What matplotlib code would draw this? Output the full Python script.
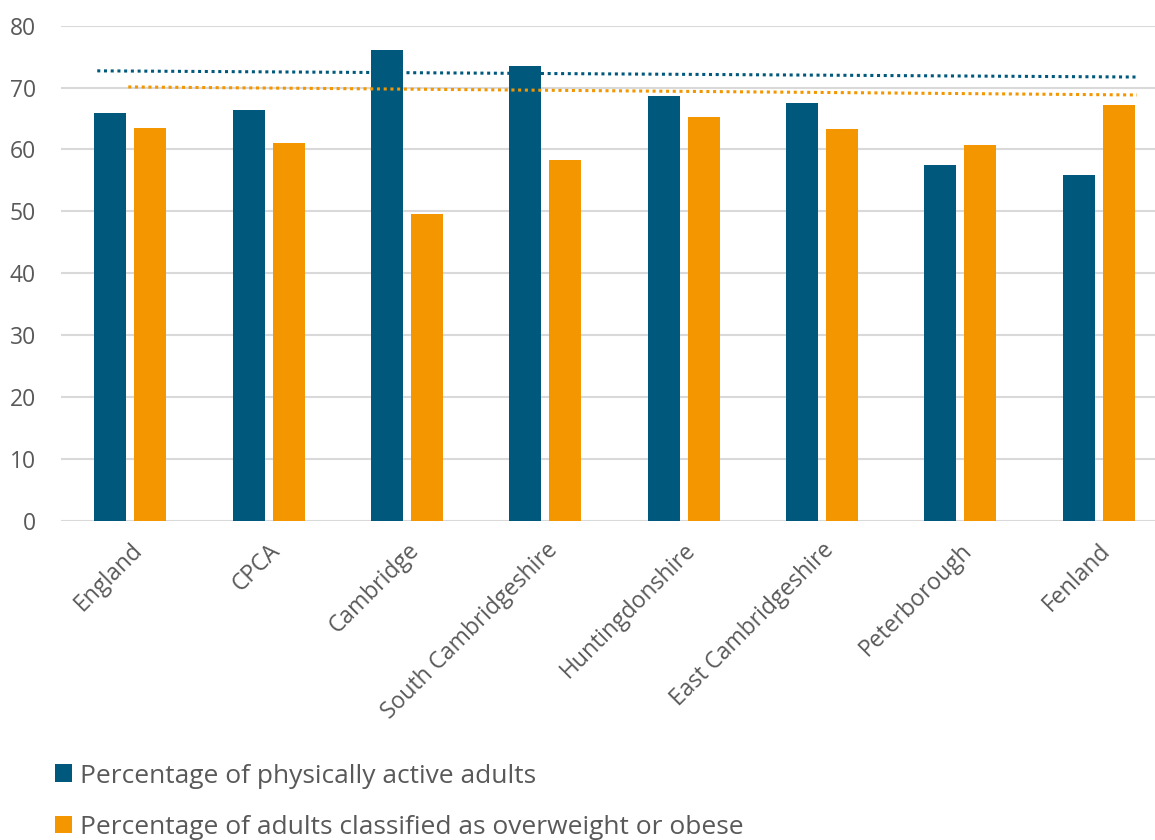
import matplotlib
matplotlib.use("Agg")
import matplotlib.pyplot as plt
from matplotlib.patches import Patch
import numpy as np

plt.rcParams['font.family'] = ['Open Sans', 'DejaVu Sans']

# ---- data ----
areas = ["England", "CPCA", "Cambridge", "South Cambridgeshire",
         "Huntingdonshire", "East Cambridgeshire", "Peterborough", "Fenland"]
active_pct = [65.9, 66.4, 76.1, 73.5, 68.6, 67.5, 57.5, 55.9]
overweight_pct = [63.5, 61.0, 49.6, 58.3, 65.2, 63.3, 60.7, 67.2]
# trend lines (start value, end value)
active_trend = [72.7, 71.7]
overweight_trend = [70.1, 68.8]
series_labels = ["Percentage of physically active adults",
                 "Percentage of adults classified as overweight or obese"]
yticks = [0, 10, 20, 30, 40, 50, 60, 70, 80]

# ---- style ----
BLUE = "#00587c"
ORANGE = "#f39600"
GRID = "#d9d9d9"
TEXT = "#595959"

W, H = 1155, 840
fig = plt.figure(figsize=(W / 100, H / 100), dpi=100)
ax = fig.add_axes([61 / W, 1 - 520.5 / H, (1168 - 61) / W, (520.5 - 25.7) / H])

x = np.arange(len(areas))
bw = 0.231
off = 0.1445
ax.bar(x - off, active_pct, width=bw, color=BLUE, zorder=3)
ax.bar(x + off, overweight_pct, width=bw, color=ORANGE, zorder=3)

# dotted trend lines
ax.plot([-0.238, 7.276], active_trend, color=BLUE, lw=2.2,
        linestyle=(0, (1, 1.2)), zorder=4)
ax.plot([-0.014, 7.276], overweight_trend, color=ORANGE, lw=2.2,
        linestyle=(0, (1, 1.2)), zorder=4)

ax.set_xlim(-0.5, len(areas) - 0.5)
ax.set_ylim(0, 80)
ax.set_yticks(yticks)
ax.yaxis.grid(True, color=GRID, lw=1.5, zorder=0)
ax.set_axisbelow(True)
for s in ax.spines.values():
    s.set_visible(False)
ax.tick_params(axis='both', length=0, colors=TEXT, labelsize=16.5)
ax.tick_params(axis='y', pad=18)
ax.set_xticks(x)
ax.set_xticklabels(areas, rotation=45, ha='right', va='top',
                   rotation_mode='anchor', color=TEXT, fontsize=16.5)
ax.tick_params(axis='x', pad=13)

handles = [Patch(facecolor=BLUE), Patch(facecolor=ORANGE)]
fig.legend(handles, series_labels, loc='upper left',
           bbox_to_anchor=(44 / W, 1 - 753 / H), frameon=False,
           fontsize=19, labelcolor=TEXT, handlelength=0.65,
           handleheight=0.65, handletextpad=0.3, labelspacing=1.0,
           borderaxespad=0)

fig.savefig("out.png", dpi=100, facecolor="white")
